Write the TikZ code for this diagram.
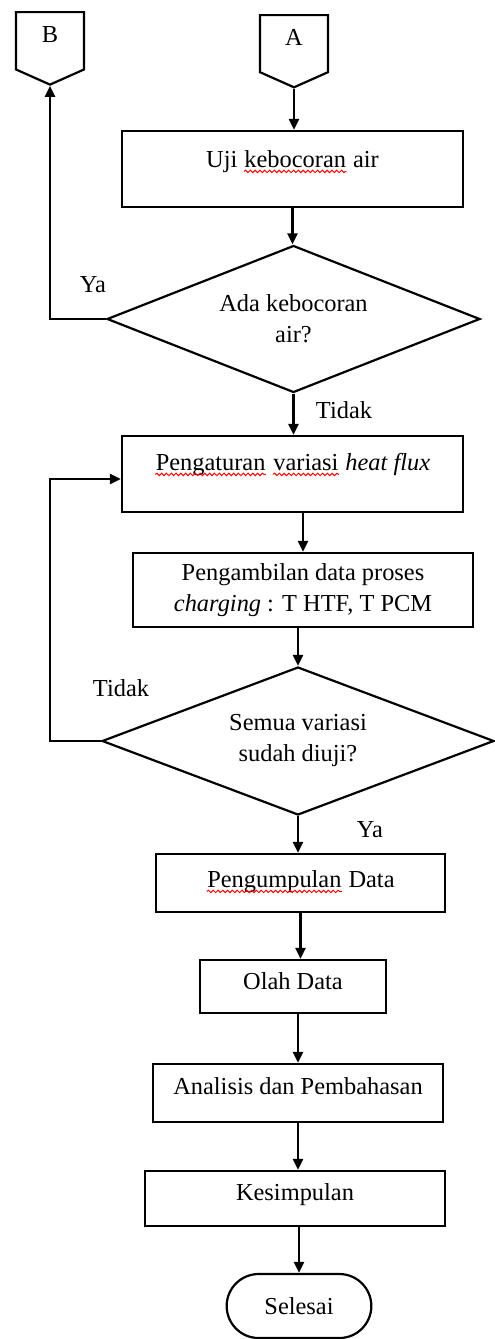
\documentclass[tikz,border=0pt]{standalone}
\usepackage{fontspec}
\setmainfont{Liberation Serif}
\usetikzlibrary{positioning, arrows.meta, calc, shapes.geometric, shapes.misc, shapes.symbols, decorations.pathmorphing}

% spell-check mark under a word
\newcommand{\typo}[1]{\tikz[baseline=(w.base), x=1cm, y=1cm]{%
    \node[rectangle, draw=none, inner sep=0pt, minimum width=0pt,
        minimum height=0pt, text height=, text depth=, align=none] (w) {#1};
    \draw[red, line width=0.5pt, decorate,
        decoration={snake, amplitude=0.6pt, segment length=2.4pt}]
        ([yshift=-2.2pt]w.base west) -- ([yshift=-2.2pt]w.base east);}}

\begin{document}
\begin{tikzpicture}[
    x=0.5pt, y=-0.5pt,
    >={Triangle[length=5.5pt, width=5pt]},
    line width=1.1pt,
    every node/.style={font=\fontsize{12.2pt}{15.5pt}\selectfont},
    box/.style={
        rectangle, draw, line width=1.1pt, inner sep=2pt, align=center,
    },
    lift/.style={text height=8.5pt, text depth=#1},
    decision/.style={diamond, draw, line width=1.1pt, aspect=2.5,
        inner sep=0pt, align=center},
    offpage/.style={signal, signal to=south, signal from=nowhere,
        signal pointer angle=132, draw, line width=1.1pt, inner sep=0pt,
        minimum width=34pt, minimum height=30.5pt, lift=6.5pt},
    terminal/.style={rounded rectangle, draw, line width=1.1pt,
        minimum width=79pt, minimum height=32pt}
]

\useasboundingbox (0,0) rectangle (494,1339);

% Off-page connectors
\node[offpage, anchor=north] (b) at (50,11) {B};
\node[offpage, anchor=north] (a) at (294,14) {A};

% Leak test
\node[box, lift=10.5pt, minimum width=170.5pt, minimum height=38pt] (uji)
    at (292.5,169) {Uji \typo{kebocoran} air};
\node[decision, minimum width=186.5pt, minimum height=73.5pt] (leak)
    at (293.5,319) {Ada kebocoran\\air?};

% Heat flux loop
\node[box, lift=12.5pt, minimum width=170.5pt, minimum height=38pt] (atur)
    at (292.5,474) {\typo{Pengaturan} \typo{variasi} \textit{heat flux}};
\node[box, minimum width=170pt, minimum height=37pt] (ambil)
    at (303,590) {Pengambilan data proses\\
     \textit{charging} : T HTF, T PCM};
\node[decision, minimum width=196pt, minimum height=74pt] (semua)
    at (298,741) {Semua variasi\\sudah diuji?};

% Final steps
\node[box, lift=4.5pt, minimum width=144.5pt, minimum height=29pt] (kumpul)
    at (300.5,883) {\typo{Pengumpulan} Data};
\node[box, lift=5.5pt, minimum width=93pt, minimum height=26.5pt] (olah)
    at (293,986.5) {Olah Data};
\node[box, lift=7.5pt, minimum width=145pt, minimum height=29pt] (analisis)
    at (298,1093) {Analisis dan Pembahasan};
\node[box, lift=6.5pt, minimum width=150pt, minimum height=27.5pt] (simpul)
    at (295,1198.5) {Kesimpulan};
\node[terminal] (selesai) at (299,1306) {Selesai};

% Branch labels
\node (ya1) at (93,285) {Ya};
\node (tidak1) at (344,410) {Tidak};
\node (tidak2) at (121,688) {Tidak};
\node (ya2) at (370,830) {Ya};

% --- Forward flow ---
\draw[->] (a.south) -- (a.south |- uji.north);
\draw[->] (uji.south) -- (uji.south |- leak.north);
\draw[->] (leak.south) -- (leak.south |- atur.north);
\draw[->] (ambil.north |- atur.south) -- (ambil.north);
\draw[->] (semua.north |- ambil.south) -- (semua.north);
\draw[->] (semua.south) -- (semua.south |- kumpul.north);
\draw[->] (kumpul.south) -- (kumpul.south |- olah.north);
\draw[->] (analisis.north |- olah.south) -- (analisis.north);
\draw[->] (analisis.south) -- (analisis.south |- simpul.north);
\draw[->] (selesai.north |- simpul.south) -- (selesai.north);

% --- Leak found: back to B ---
\draw[->] (leak.west) -| (b.south);

% --- Not all variations done: loop back ---
\draw[->] (semua.west) -- ++(-51,0) |- ($(atur.west)+(0,5)$);

\end{tikzpicture}
\end{document}
